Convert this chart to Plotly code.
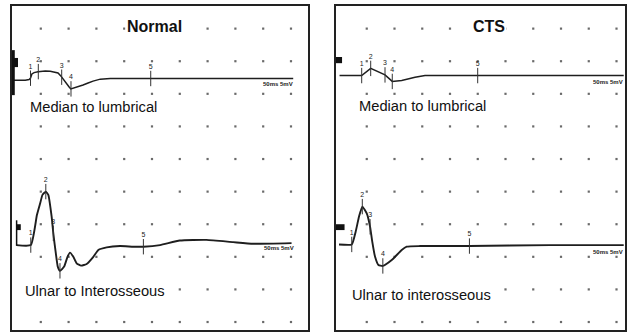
import numpy as np
import plotly.graph_objects as go

# ---------------- data (time in ms, amplitude in mV relative to trace baseline) ----------------
sweep_ms = 50          # 10 divisions x 5 ms
div_ms = 5
div_mv = 5

grid_x = [5, 10, 15, 20, 25, 30, 35, 40, 45, 50]
grid_y = [0, 5, 10, 15, 20, 25, 30, 35, 40, 45]

# Normal, median to lumbrical
nl_t = [0, 1.3, 2.2, 2.9, 3.15, 3.4, 3.8, 4.5, 5.8, 6.7, 7.5, 8.1, 8.6, 9.0, 9.5, 10.1,
        10.4, 11.0, 11.7, 12.6, 13.5, 14.4, 15.7, 17.5, 25.0, 35.0, 50.4]
nl_amp = [-0.15, -0.2, -0.15, -0.05, 0.15, 0.8, 1.0, 1.15, 1.25, 1.2, 1.1, 0.95, 0.5, 0.0,
          -0.6, -1.2, -1.5, -1.35, -1.15, -0.9, -0.6, -0.3, 0.0, 0.1, 0.1, 0.1, 0.1]
nl_mark_t = [3.15, 4.55, 8.76, 10.43, 24.77]

# Normal, ulnar to interosseous
ni_t = [0.6, 3.2, 4.3, 4.9, 5.3, 5.9, 6.35, 6.95, 7.25, 7.7, 8.05, 8.45, 9.2, 9.8, 10.25,
        10.85, 11.45, 12.25, 13.25, 14.45, 15.35, 16.85, 19.25, 21.65, 23.45, 26.45, 30.0,
        34.8, 39.6, 43.2, 50.1]
ni_amp = [0, 0, 4.6, 6.45, 7.7, 8.2, 7.7, 4.35, 1.8, -1.25, -3.3, -3.95, -3.3, -1.8, -1.15,
          -1.8, -2.8, -3.15, -2.9, -1.8, -0.75, -0.35, -0.15, -0.25, -0.25, 0, 0.7, 0.8,
          0.45, 0.2, 0.3]
ni_mark_t = [3.2, 5.9, 7.25, 8.45, 23.45]

# CTS, median to lumbrical
cl_t = [0.1, 4.09, 5.71, 7.08, 8.29, 9.6, 11.3, 13.7, 15.5, 25.0, 51.3]
cl_amp = [0, 0, 1.1, 0.6, 0.1, -0.9, -0.75, -0.25, 0, 0, 0]
cl_mark_t = [4.09, 5.71, 8.29, 9.6, 24.99]

# CTS, ulnar to interosseous
ci_t = [0, 2.3, 3.0, 3.6, 4.2, 5.0, 5.6, 6.0, 6.5, 7.1, 7.9, 9.5, 11.3, 12.2, 14.6, 23.5,
        38.0, 51.3]
ci_amp = [0.05, 0.05, 2.0, 4.3, 5.85, 4.8, 2.75, 0.45, -1.85, -3.1, -3.25, -2.35, -0.8,
          -0.3, -0.2, -0.2, -0.05, -0.05]
ci_mark_t = [2.3, 4.2, 5.6, 7.9, 23.5]

mark_labels = ["1", "2", "3", "4", "5"]
panel_titles = ["Normal", "CTS"]
top_labels = ["Median to lumbrical", "Median to lumbrical"]
bottom_labels = ["Ulnar to Interosseous", "Ulnar to interosseous"]
scale_label = "50ms 5mV"

# ---------------- figure ----------------
W, H = 635, 334
INK = "#1e1e1e"
fig = go.Figure()

panels = [
    dict(xa="x", ya="y", top=(nl_t, nl_amp, nl_mark_t, 37.25, "linear"),
         bot=(ni_t, ni_amp, ni_mark_t, 11.8, "spline")),
    dict(xa="x2", ya="y2", top=(cl_t, cl_amp, cl_mark_t, 37.8, "linear"),
         bot=(ci_t, ci_amp, ci_mark_t, 11.85, "spline")),
]

for p in panels:
    gx = [x for y in grid_y for x in grid_x]
    gy = [y for y in grid_y for x in grid_x]
    fig.add_trace(go.Scatter(x=gx, y=gy, mode="markers", xaxis=p["xa"], yaxis=p["ya"],
                             marker=dict(size=2.2, color="#6a6a6a", symbol="square"),
                             hoverinfo="skip", showlegend=False))
    for key, lw in (("top", 1.5), ("bot", 1.9)):
        t, amp, mt, base, shape = p[key]
        y = [base + a for a in amp]
        fig.add_trace(go.Scatter(x=t, y=y, mode="lines", xaxis=p["xa"], yaxis=p["ya"],
                                 line=dict(color=INK, width=lw, shape=shape,
                                           smoothing=0.45 if shape == "spline" else None),
                                 hoverinfo="skip", showlegend=False))
        my = list(np.interp(mt, t, y))
        fig.add_trace(go.Scatter(x=mt, y=my, mode="markers+text", xaxis=p["xa"], yaxis=p["ya"],
                                 marker=dict(symbol="line-ns", size=11,
                                             line=dict(color="#333", width=1)),
                                 text=mark_labels, textposition="top center",
                                 textfont=dict(family="Liberation Sans", size=7, color="#222"),
                                 hoverinfo="skip", showlegend=False))

axis_common = dict(showline=True, mirror=True, linecolor="#222", linewidth=2,
                   showgrid=False, zeroline=False, showticklabels=False, ticks="",
                   fixedrange=True)
ydom = [4 / H, 1 - 6 / H]
fig.update_layout(
    width=W, height=H, margin=dict(l=0, r=0, t=0, b=0),
    paper_bgcolor="white", plot_bgcolor="white", showlegend=False,
    xaxis=dict(domain=[12 / W, 308 / W], range=[-0.18, 53.06], anchor="y", **axis_common),
    yaxis=dict(domain=ydom, range=[-1.225, 48.47], anchor="x", **axis_common),
    xaxis2=dict(domain=[336 / W, 625 / W], range=[-0.54, 51.53], anchor="y2", **axis_common),
    yaxis2=dict(domain=ydom, range=[-1.225, 48.47], anchor="x2", **axis_common),
)

ann = []
# titles
for (xr, yr, title, tx) in (("x", "y", panel_titles[0], 25.5), ("x2", "y2", panel_titles[1], 27.1)):
    ann.append(dict(x=tx, y=45.25, xref=xr, yref=yr, text="<b>%s</b>" % title, showarrow=False,
                    font=dict(family="Liberation Sans", size=16, color="#111"),
                    bgcolor="white", borderpad=1))
# trace labels
for (xr, yr, lab, tx, ty) in (("x", "y", top_labels[0], 2.9, 32.97),
                              ("x2", "y2", top_labels[1], 3.42, 33.1),
                              ("x", "y", bottom_labels[0], 1.98, 4.75),
                              ("x2", "y2", bottom_labels[1], 2.1, 4.19)):
    ann.append(dict(x=tx, y=ty, xref=xr, yref=yr, text=lab, showarrow=False, xanchor="left",
                    font=dict(family="Liberation Sans", size=14.7, color="#111"),
                    bgcolor="white", borderpad=0))
# scale labels
for (xr, yr, tx, ty) in (("x", "y", 47.6, 36.55), ("x", "y", 47.8, 11.35),
                         ("x2", "y2", 48.4, 36.8), ("x2", "y2", 48.4, 10.75)):
    ann.append(dict(x=tx, y=ty, xref=xr, yref=yr, text="<b>%s</b>" % scale_label,
                    showarrow=False, font=dict(family="Liberation Sans", size=6, color="#222")))
fig.update_layout(annotations=ann)

# calibration marks (start-of-sweep pulses)
shapes = [
    dict(type="line", xref="x", yref="y", x0=0.05, x1=0.05, y0=34.8, y1=41.7,
         line=dict(color="#111", width=3)),
    dict(type="rect", xref="x", yref="y", x0=0, x1=0.9, y0=39.1, y1=40.5,
         fillcolor="#111", line=dict(width=0)),
    dict(type="line", xref="x", yref="y", x0=0.65, x1=0.65, y0=11.7, y1=15.6,
         line=dict(color="#111", width=1.5)),
    dict(type="rect", xref="x", yref="y", x0=0.55, x1=1.4, y0=14.1, y1=15.0,
         fillcolor="#111", line=dict(width=0)),
    dict(type="rect", xref="x2", yref="y2", x0=-0.54, x1=0.55, y0=39.7, y1=40.65,
         fillcolor="#111", line=dict(width=0)),
    dict(type="rect", xref="x2", yref="y2", x0=-0.54, x1=1.0, y0=14.1, y1=15.0,
         fillcolor="#111", line=dict(width=0)),
]
fig.update_layout(shapes=shapes)

fig.write_html("out.html")
